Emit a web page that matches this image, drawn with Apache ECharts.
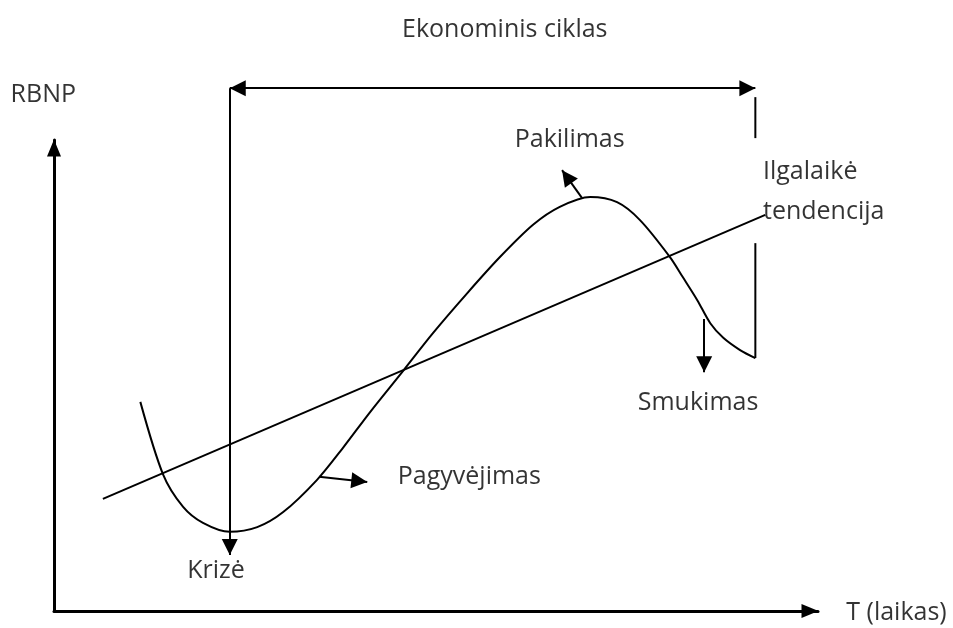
<!DOCTYPE html>
<html>
<head>
<meta charset="utf-8">
<script src="https://cdn.jsdelivr.net/npm/echarts@6/dist/echarts.min.js"></script>
<style>
html, body { margin: 0; background: #fff; }
#chart { width: 953px; height: 628px; }
</style>
</head>
<body>
<div id="chart"></div>
<script>
// ekonominio ciklo kreive: [laikas, RBNP]
var cycleCurve = [[11.3, 44.4], [14.3, 28.9], [16.9, 22.1], [19.5, 18.7], [23.0, 16.8], [26.6, 17.8],
  [30.0, 21.0], [34.4, 27.8], [37.8, 34.6], [41.4, 42.3], [45.7, 51.0], [49.6, 59.0], [54.1, 67.5],
  [58.4, 75.2], [62.7, 82.0], [66.2, 85.8], [70.2, 87.9], [73.7, 86.8], [76.7, 83.0],
  [80.6, 75.2], [82.3, 70.9], [84.2, 66.0], [85.9, 61.1], [87.6, 58.0], [89.8, 55.4], [91.8, 53.7]]
// ilgalaike tendencija
var trendLine = [[6.4, 23.8], [93.1, 84.1]]
// ciklo ribos
var cycleSpan = [[23.0, 111.0], [91.8, 111.0]]
var crisisLine = [[23.0, 111.0], [23.0, 11.9]]
var endLineTop = [[91.8, 109.1], [91.8, 100.4]]
var endLineBottom = [[91.8, 78.1], [91.8, 53.7]]
// fazių rodyklės
var riseArrow = [[69.1, 87.7], [66.5, 93.6]]
var recoveryArrow = [[34.7, 28.5], [41.0, 27.4]]
var fallArrow = [[85.1, 62.0], [85.1, 50.7]]
// užrašai
var labelTexts = ['Ekonominis ciklas', 'RBNP', 'Pakilimas', 'Ilgalaikė', 'tendencija', 'Smukimas', 'Pagyvėjimas', 'Krizė', 'T (laikas)']
var labelPoints = [[59.0, 123.4], [-1.4, 109.6], [67.5, 100.0], [92.8, 93.2], [92.8, 84.7], [84.3, 44.2], [45.0, 28.5], [21.2, 8.5], [103.7, -0.4]]

var leftAligned = ['Ilgalaikė', 'tendencija', 'Pagyvėjimas', 'T (laikas)']

// trikampis, kurio smaigalys yra linijos gale
var headPath = 'path://M-16,-16 M16,16 M0,0 L8,16 L-8,16 Z'

var chart = echarts.init(document.getElementById('chart'))

function axis () {
  return {
    type: 'value',
    min: 0,
    max: 100,
    axisLine: {
      show: true,
      symbol: ['none', 'triangle'],
      symbolSize: [14, 17],
      symbolOffset: [0, -8],
      lineStyle: { color: '#000', width: 3 }
    },
    axisTick: { show: false },
    axisLabel: { show: false },
    splitLine: { show: false }
  }
}

function plain (points) {
  return {
    type: 'line',
    data: points,
    symbol: 'none',
    clip: false,
    silent: true,
    lineStyle: { color: '#000', width: 2 }
  }
}

function arrows (list, symbols) {
  return {
    type: 'lines',
    coordinateSystem: 'cartesian2d',
    clip: false,
    silent: true,
    symbol: symbols,
    symbolSize: 32,
    lineStyle: { color: '#000', width: 2, opacity: 1, curveness: 0 },
    data: list.map(function (c) { return { coords: c } })
  }
}

var labelData = labelTexts.map(function (t, i) {
  var left = leftAligned.indexOf(t) >= 0
  return {
    name: t,
    value: labelPoints[i],
    label: { position: left ? 'right' : 'inside', distance: 0 }
  }
})

var option = {
  animation: false,
  grid: { left: 54, top: 140, right: 135, bottom: 17, containLabel: false },
  xAxis: axis(),
  yAxis: axis(),
  series: [
    Object.assign(plain(cycleCurve), { smooth: 0.3 }),
    plain(trendLine),
    plain(endLineTop),
    plain(endLineBottom),
    arrows([cycleSpan], [headPath, headPath]),
    arrows([crisisLine, riseArrow, recoveryArrow, fallArrow], ['none', headPath]),
    {
      type: 'scatter',
      clip: false,
      silent: true,
      symbolSize: 0,
      data: labelData,
      label: {
        show: true,
        formatter: '{b}',
        color: '#000',
        fontFamily: 'Open Sans',
        fontSize: 25
      }
    }
  ]
}

chart.setOption(option)
</script>
</body>
</html>
